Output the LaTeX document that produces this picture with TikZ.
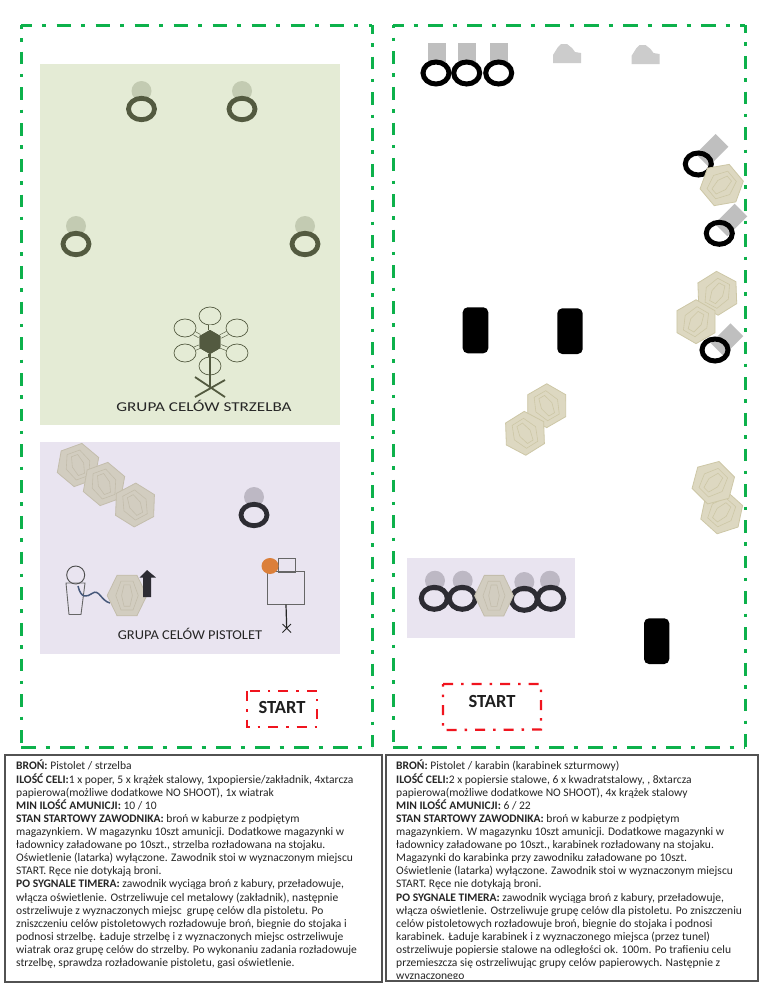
\documentclass[tikz,border=0pt]{standalone}
\usepackage{fontspec}
\setmainfont{Carlito}
\usetikzlibrary{shapes.geometric}
\definecolor{framegreen}{HTML}{0DB14B}
\definecolor{startred}{HTML}{F0141E}
\definecolor{zonegreen}{HTML}{E4EBD5}
\definecolor{zonelilac}{HTML}{E9E4F0}
\definecolor{ringolive}{HTML}{535A40}
\definecolor{discolive}{HTML}{C3CBB2}
\definecolor{ringdark}{HTML}{2D2C33}
\definecolor{disclilac}{HTML}{BDB8C4}
\definecolor{steelgray}{HTML}{BFBFBF}
\definecolor{inktext}{HTML}{262626}
\definecolor{cableblue}{HTML}{46587A}
\definecolor{gunorange}{HTML}{DB7F3A}
\colorlet{ringc}{black}
\colorlet{discc}{steelgray}
\colorlet{pfill}{black}
\colorlet{pedge}{black}
\tikzset{
  x=1pt,y=-1pt,
  frameH/.style={draw=framegreen,line width=3pt,dash pattern=on 14.5pt off 10pt on 4pt off 10.5pt,dash phase=#1},
  frameV/.style={draw=framegreen,line width=3pt,dash pattern=on 12.7pt off 9.5pt on 3.5pt off 10pt,dash phase=#1},
  startbox/.style={draw=startred,line width=2.3pt,dash pattern=on 10pt off 8pt on 2.5pt off 8pt},
  starttext/.style={font=\fontsize{18.5}{20}\selectfont\bfseries,text=black!88},
  grouplabel/.style={font=\fontsize{13.5}{15}\selectfont,text=inktext},
  briefbox/.style={draw=black!68,line width=1.2pt,fill=white},
  brieftext/.style={anchor=north west,align=left,inner sep=0pt,text=inktext,
     font=\fontsize{11.55}{13.12}\selectfont},
  tunnel/.style={fill=black,rounded corners=5pt},
  steelsquare/.style={fill=steelgray,minimum width=18pt,minimum height=28pt,inner sep=0pt},
  pics/plate/.style={code={
     \fill[discc] (0,-18) circle [radius=10pt];
     \draw[ringc,line width=4.8pt] (0,0) ellipse [x radius=13pt,y radius=10.7pt];
  }},
  pics/ring/.style={code={
     \draw[ringc,line width=5pt] (0,0) ellipse [x radius=13pt,y radius=11pt];
  }},
  pics/paper/.style={code={
     \filldraw[fill=pfill,draw=pedge,line width=.8pt] (-11,-19)--(11,-19)--(22,0)--(11,19)--(-11,19)--(-22,0)--cycle;
     \draw[pedge,line width=.6pt] (-6.7,-13.5)--(6.7,-13.5)--(12.5,0)--(6.7,13.5)--(-6.7,13.5)--(-12.5,0)--cycle;
     \draw[pedge,line width=.6pt] (-3.3,-10)--(3.3,-10)--(6,0)--(3.3,10)--(-3.3,10)--(-6,0)--cycle;
  }},
  pics/bust/.style={code={
     \fill[black!20] (0,20)--(0,12)--(5,4)--(8,1)--(14,1)--(19,5)--(22,9)--(28,10)--(28,20)--cycle;
  }},
}
\begin{document}
\begin{tikzpicture}
\useasboundingbox (0,0) rectangle (768,994);
\fill[white] (0,0) rectangle (768,994);

% frames
\draw[frameH=3.5pt] (21,25) -- (372,25);
\draw[frameH=0pt] (21,747) -- (372,747);
\draw[frameV=9pt] (21,25) -- (21,747);
\draw[frameV=4pt] (372,25) -- (372,747);
\draw[frameH=4pt] (393,25) -- (745,25);
\draw[frameH=0pt] (393,747) -- (745,747);
\draw[frameV=9.5pt] (393,25) -- (393,747);
\draw[frameV=4.8pt] (745,25) -- (745,747);

% zones
\fill[zonegreen] (40,64) rectangle (340,425);
\fill[zonelilac] (40,442) rectangle (340,654);
\fill[zonelilac] (407.3,558.3) rectangle (575,637.7);

% shotgun group
\begin{scope}
\colorlet{ringc}{ringolive}\colorlet{discc}{discolive}
\pic at (141.5,109) {plate};
\pic at (242,109) {plate};
\pic at (76,244) {plate};
\pic at (305,244) {plate};
\tikzset{blade/.style={ellipse,draw=ringolive,line width=.7pt,minimum width=22pt,minimum height=18pt,inner sep=0pt},
         arm/.style={draw=ringolive,line width=.6pt,double=zonegreen,double distance=3pt},
         hubshape/.style={regular polygon,regular polygon sides=6,shape border rotate=30,fill=ringolive,minimum size=24pt,inner sep=0pt}}
\node[hubshape] (hub) at (210,342) {};
\node[blade] (b1) at (210,316) {};
\node[blade] (b2) at (185,328) {};
\node[blade] (b3) at (185,353) {};
\node[blade] (b4) at (210,366) {};
\node[blade] (b5) at (237,328) {};
\node[blade] (b6) at (237,353) {};
\foreach \b in {b1,b2,b3,b4,b5,b6}{\draw[arm] (hub) -- (\b);}
\node[hubshape] at (hub) {};
\coordinate (foot) at (210,388);
\draw[ringolive,line width=2.6pt] (hub) -- (foot);
\draw[ringolive,line width=1.8pt] (195,377) -- (225,397);
\draw[ringolive,line width=1.8pt] (225,380) -- (195,397);
\node[grouplabel] (lblshot) at (204,406) {\scalebox{1.27}[1]{GRUPA CELÓW STRZELBA}};
\end{scope}

% pistol group
\begin{scope}
\colorlet{ringc}{ringdark}\colorlet{discc}{disclilac}
\definecolor{pfill}{HTML}{D2CDC0}\definecolor{pedge}{HTML}{C3BDAC}
\pic[rotate=20] at (78,465) {paper};
\pic[rotate=20] at (104,484) {paper};
\pic[rotate=28] at (135,505) {paper};
\pic at (254,515) {plate};
% popper with cable
\node[circle,draw=black!70,line width=.9pt,minimum size=18pt,inner sep=0pt] (head) at (75.7,575) {};
\draw[black!60,line width=.9pt] (66,583) -- (85,583) -- (81,614.5) -- (69,614.5) -- cycle;
\coordinate (cableA) at (78,586);
\coordinate (cableB) at (110,603);
\draw[cableblue,line width=1.5pt] (cableA) .. controls (81,599) and (87,597) .. (92,593.5) .. controls (99,588) and (101,601) .. (cableB);
\pic[xscale=.9,yscale=1.07] at (127,595.5) {paper};
\fill[ringdark] (147,570) -- (156,577.5) -- (151,577.5) -- (151,597) -- (143,597) -- (143,577.5) -- (139.5,577.5) -- cycle;
% shooter / rack
\node[draw=black!60,line width=.9pt,minimum width=17pt,minimum height=14pt,inner sep=0pt] (stock) at (286.5,565) {};
\node[draw=black!60,line width=.9pt,minimum width=36.5pt,minimum height=32.5pt,inner sep=0pt] (rack) at (286,588) {};
\node[ellipse,fill=gunorange,minimum width=17pt,minimum height=16pt,inner sep=0pt] (gun) at (270,566) {};
\coordinate (standfoot) at (286.7,628);
\draw[black!85,line width=1.2pt] (rack.south) -- (standfoot);
\draw[black!85,line width=1pt] (282.5,624) -- (291,632.5) (291,624) -- (282.5,632.5);
\node[grouplabel] (lblpist) at (190,634) {\scalebox{1.07}[1]{GRUPA CELÓW PISTOLET}};
\end{scope}

% start boxes
\draw[startbox] (247,691) rectangle (317,727);
\node[starttext] (start1) at (282,707) {START};
\draw[startbox] (443,684) -- (541,684) -- (541,729.5) -- (443,730) -- cycle;
\node[starttext] (start2) at (492,701) {START};

% right stage: top row
\begin{scope}
\colorlet{ringc}{black}
\fill[steelgray] (427.7,43) rectangle (445.7,62);
\fill[steelgray] (458.3,43) rectangle (476,62);
\fill[steelgray] (490,43) rectangle (508,62);
\pic at (436,73) {ring};
\pic at (466.7,73) {ring};
\pic at (498.7,73) {ring};
\pic at (553,43) {bust};
\pic at (631.5,44) {bust};
% right side rotated plates
\node[steelsquare,rotate=-45] (sq1) at (712,150.3) {};
\node[steelsquare,rotate=-45] (sq2) at (731,220) {};
\node[steelsquare,rotate=-45] (sq3) at (727,339.7) {};
\pic at (698.3,164) {ring};
\pic at (719.3,233.3) {ring};
\pic at (715,350) {ring};
\definecolor{pfill}{HTML}{DDD8C1}\definecolor{pedge}{HTML}{CDC7A6}
\pic[rotate=-50] at (721.7,185) {paper};
\pic[rotate=-28] at (717.3,293.3) {paper};
\pic[rotate=-30] at (696,321.7) {paper};
\pic[rotate=30] at (546.7,405.7) {paper};
\pic[rotate=32] at (525,433.3) {paper};
\pic[rotate=-42] at (721.7,512.3) {paper};
\pic[rotate=-45] at (713.3,482.7) {paper};
% tunnels
\fill[tunnel] (462.7,307.3) rectangle (488.3,353.3);
\fill[tunnel] (557.3,308.3) rectangle (582.7,354);
\fill[tunnel] (644,618.3) rectangle (669.3,664);
\end{scope}

% right lilac group
\begin{scope}
\fill[disclilac] (435,580.7) circle [radius=10pt];
\fill[disclilac] (462.7,580.7) circle [radius=10pt];
\fill[disclilac] (524.3,582) circle [radius=10pt];
\fill[disclilac] (550,580.7) circle [radius=10pt];
\colorlet{ringc}{ringdark}
\pic at (434.3,598.3) {ring};
\pic at (462.3,598.3) {ring};
\pic at (524.3,599.3) {ring};
\pic at (550.7,598.3) {ring};
\definecolor{pfill}{HTML}{D2CDC0}\definecolor{pedge}{HTML}{C3BDAC}
\pic[xscale=.88,yscale=1.07] at (494,595.7) {paper};
\end{scope}

% briefing boxes
\draw[briefbox] (5,755) rectangle (382,982);
\draw[briefbox] (386,755) rectangle (758,981);
\node[brieftext] (briefL) at (16,760) {\textbf{BROŃ:} Pistolet / strzelba\\
\textbf{ILOŚĆ CELI:}1 x poper, 5 x krążek stalowy, 1xpopiersie/zakładnik, 4xtarcza\\
papierowa(możliwe dodatkowe NO SHOOT), 1x wiatrak\\
\textbf{MIN ILOŚĆ AMUNICJI:} 10 / 10\\
\textbf{STAN STARTOWY ZAWODNIKA:} broń w kaburze z podpiętym\\
magazynkiem. W magazynku 10szt amunicji. Dodatkowe magazynki w\\
ładownicy załadowane po 10szt., strzelba rozładowana na stojaku.\\
Oświetlenie (latarka) wyłączone. Zawodnik stoi w wyznaczonym miejscu\\
START. Ręce nie dotykają broni.\\
\textbf{PO SYGNALE TIMERA:} zawodnik wyciąga broń z kabury, przeładowuje,\\
włącza oświetlenie. Ostrzeliwuje cel metalowy (zakładnik), następnie\\
ostrzeliwuje z wyznaczonych miejsc~ grupę celów dla pistoletu. Po\\
zniszczeniu celów pistoletowych rozładowuje broń, biegnie do stojaka i\\
podnosi strzelbę. Ładuje strzelbę i z wyznaczonych miejsc ostrzeliwuje\\
wiatrak oraz grupę celów do strzelby. Po wykonaniu zadania rozładowuje\\
strzelbę, sprawdza rozładowanie pistoletu, gasi oświetlenie.};
\begin{scope}
\clip (386,755) rectangle (758,978.5);
\node[brieftext] (briefR) at (396,760) {\textbf{BROŃ:} Pistolet / karabin (karabinek szturmowy)\\
\textbf{ILOŚĆ CELI:}2 x popiersie stalowe, 6 x kwadratstalowy, , 8xtarcza\\
papierowa(możliwe dodatkowe NO SHOOT), 4x krążek stalowy\\
\textbf{MIN ILOŚĆ AMUNICJI:} 6 / 22\\
\textbf{STAN STARTOWY ZAWODNIKA:} broń w kaburze z podpiętym\\
magazynkiem. W magazynku 10szt amunicji. Dodatkowe magazynki w\\
ładownicy załadowane po 10szt., karabinek rozładowany na stojaku.\\
Magazynki do karabinka przy zawodniku załadowane po 10szt.\\
Oświetlenie (latarka) wyłączone. Zawodnik stoi w wyznaczonym miejscu\\
START. Ręce nie dotykają broni.\\
\textbf{PO SYGNALE TIMERA:} zawodnik wyciąga broń z kabury, przeładowuje,\\
włącza oświetlenie. Ostrzeliwuje grupę celów dla pistoletu. Po zniszczeniu\\
celów pistoletowych rozładowuje broń, biegnie do stojaka i podnosi\\
karabinek. Ładuje karabinek i z wyznaczonego miejsca (przez tunel)\\
ostrzeliwuje popiersie stalowe na odległości ok. 100m. Po trafieniu celu\\
przemieszcza się ostrzeliwując grupy celów papierowych. Następnie z\\
wyznaczonego};
\end{scope}
\end{tikzpicture}
\end{document}
